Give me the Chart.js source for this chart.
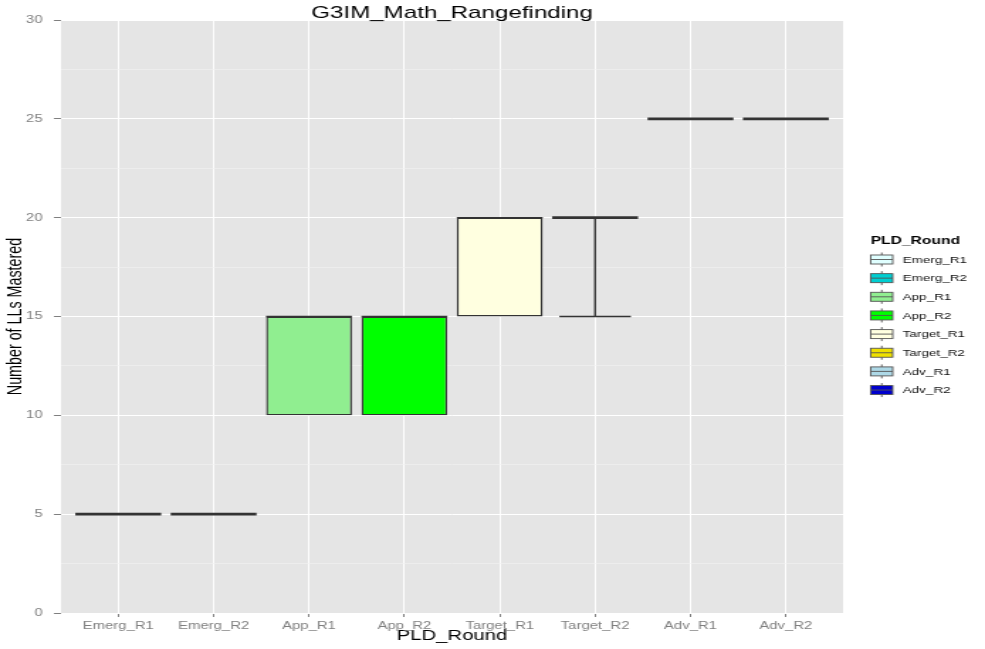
<!DOCTYPE html>
<html>
<head>
<meta charset="utf-8">
<script src="https://cdn.jsdelivr.net/npm/chart.js@4.4.1/dist/chart.umd.min.js"></script>
<style>
  html, body { margin: 0; padding: 0; background: #fff; overflow: hidden; }
  /* the reference is a horizontally stretched picture, so draw narrow and stretch */
  #wrap { width: 694px; height: 649px; transform: scaleX(1.4193); transform-origin: 0 0; }
</style>
</head>
<body>
<div id="wrap"><canvas id="chart"></canvas></div>
<script>
const categories = ["Emerg_R1", "Emerg_R2", "App_R1", "App_R2", "Target_R1", "Target_R2", "Adv_R1", "Adv_R2"];
const q1 = [5, 5, 10, 10, 15, 20, 25, 25];
const medians = [5, 5, 15, 15, 20, 20, 25, 25];
const q3 = [5, 5, 15, 15, 20, 20, 25, 25];
const whiskerLow = [5, 5, 10, 10, 15, 15, 25, 25];
const whiskerHigh = [5, 5, 15, 15, 20, 20, 25, 25];
const fillColors = ["#E0FFFF", "#00CED1", "#90EE90", "#00FF00", "#FFFFE0", "#EEE000", "#ADD8E6", "#0000CD"];
const yTickLabels = [0, 5, 10, 15, 20, 25, 30];

const FONT = '"Liberation Sans", Arial, sans-serif';
const LINE = "#333333";

const boxExtras = {
  id: "boxExtras",
  beforeDraw(chart) {
    const { ctx, chartArea: a } = chart;
    ctx.save();
    ctx.fillStyle = "#E5E5E5";
    ctx.fillRect(a.left, a.top, a.right - a.left, a.bottom - a.top);
    ctx.restore();
  },
  afterDatasetsDraw(chart) {
    const { ctx } = chart;
    const x = chart.scales.x, y = chart.scales.y;
    ctx.save();
    ctx.strokeStyle = LINE;
    categories.forEach((c, i) => {
      const cx = x.getPixelForValue(i);
      const half = x.getPixelForValue(i + 0.45) - cx;
      const capHalf = x.getPixelForValue(i + 0.375) - cx;
      // whiskers outside the box
      ctx.lineWidth = 1.4;
      ctx.beginPath();
      if (whiskerHigh[i] > q3[i]) {
        ctx.moveTo(cx, y.getPixelForValue(q3[i]));
        ctx.lineTo(cx, y.getPixelForValue(whiskerHigh[i]));
        ctx.moveTo(cx - capHalf, y.getPixelForValue(whiskerHigh[i]));
        ctx.lineTo(cx + capHalf, y.getPixelForValue(whiskerHigh[i]));
      }
      if (whiskerLow[i] < q1[i]) {
        ctx.moveTo(cx, y.getPixelForValue(q1[i]));
        ctx.lineTo(cx, y.getPixelForValue(whiskerLow[i]));
        ctx.moveTo(cx - capHalf, y.getPixelForValue(whiskerLow[i]));
        ctx.lineTo(cx + capHalf, y.getPixelForValue(whiskerLow[i]));
      }
      ctx.stroke();
      // median
      ctx.lineWidth = q1[i] === q3[i] ? 2.6 : 1.4;
      const my = y.getPixelForValue(medians[i]);
      ctx.beginPath();
      ctx.moveTo(cx - half, my);
      ctx.lineTo(cx + half, my);
      ctx.stroke();
    });
    ctx.restore();
  },
  afterDraw(chart) {
    const { ctx, chartArea: a } = chart;
    ctx.save();
    // title
    ctx.fillStyle = "#000";
    ctx.font = "17px " + FONT;
    ctx.textAlign = "center";
    ctx.textBaseline = "middle";
    ctx.fillText("G3IM_Math_Rangefinding", (a.left + a.right) / 2, 13);
    // legend
    const lx = 613.5;
    ctx.textAlign = "left";
    ctx.font = "bold 11px " + FONT;
    ctx.fillText("PLD_Round", lx, 241);
    ctx.font = "9.5px " + FONT;
    categories.forEach((c, i) => {
      const cy = 259.5 + i * 18.65;
      ctx.fillStyle = fillColors[i];
      ctx.fillRect(lx, cy - 4.5, 15.5, 9);
      ctx.strokeStyle = "#555";
      ctx.lineWidth = 0.9;
      ctx.strokeRect(lx, cy - 4.5, 15.5, 9);
      ctx.beginPath();
      ctx.moveTo(lx, cy);
      ctx.lineTo(lx + 15.5, cy);
      ctx.moveTo(lx + 7.75, cy - 4.5);
      ctx.lineTo(lx + 7.75, cy - 7);
      ctx.moveTo(lx + 7.75, cy + 4.5);
      ctx.lineTo(lx + 7.75, cy + 7);
      ctx.stroke();
      ctx.fillStyle = "#111";
      ctx.fillText(c, lx + 22.5, cy + 0.5);
    });
    ctx.restore();
  }
};

const boxes = categories
  .map((c, i) => (q1[i] < q3[i] ? { x: i, y: [q1[i], q3[i]] } : null))
  .filter((d) => d !== null);

const chart = new Chart(document.getElementById("chart"), {
  type: "bar",
  data: {
    datasets: [{
      label: "PLD_Round",
      data: boxes,
      backgroundColor: (c) => fillColors[c.raw ? c.raw.x : 0],
      borderColor: LINE,
      borderWidth: 1.4,
      borderSkipped: false,
      barPercentage: 0.9,
      categoryPercentage: 1
    }]
  },
  options: {
    responsive: true,
    maintainAspectRatio: false,
    animation: false,
    layout: { padding: { top: 20, right: 100, left: 0, bottom: 0 } },
    plugins: { legend: { display: false }, tooltip: { enabled: false } },
    scales: {
      x: {
        type: "linear",
        min: -0.6,
        max: 7.6,
        offset: false,
        afterBuildTicks: (s) => { s.ticks = categories.map((c, i) => ({ value: i })); },
        afterFit: (s) => { s.height = 36; },
        border: { display: false },
        grid: { offset: false, color: "#FFFFFF", lineWidth: 1, tickColor: "#7F7F7F", tickLength: 4 },
        ticks: {
          color: "#7F7F7F",
          font: { family: FONT, size: 10.5 },
          padding: 3,
          maxRotation: 0,
          autoSkip: false,
          callback: (v) => categories[v]
        },
        title: {
          display: true,
          text: "PLD_Round",
          color: "#000",
          font: { family: FONT, size: 14.3 },
          padding: { top: 0, bottom: 4 }
        }
      },
      y: {
        min: 0,
        max: 30,
        afterFit: (s) => { s.width = 43; },
        border: { display: false },
        grid: {
          color: (c) => (yTickLabels.includes(c.tick.value) ? "#FFFFFF" : "#F2F2F2"),
          lineWidth: (c) => (yTickLabels.includes(c.tick.value) ? 1 : 0.6),
          tickColor: (c) => (yTickLabels.includes(c.tick.value) ? "#7F7F7F" : "rgba(0,0,0,0)"),
          tickLength: 5
        },
        ticks: {
          stepSize: 2.5,
          color: "#7F7F7F",
          font: { family: FONT, size: 10.5 },
          padding: 8,
          callback: (v) => (yTickLabels.includes(v) ? String(v) : "")
        },
        title: {
          display: true,
          text: "Number of LLs Mastered",
          color: "#000",
          font: { family: FONT, size: 14.3 },
          padding: { top: 2, bottom: 0 }
        }
      }
    }
  },
  plugins: [boxExtras]
});
</script>
</body>
</html>
